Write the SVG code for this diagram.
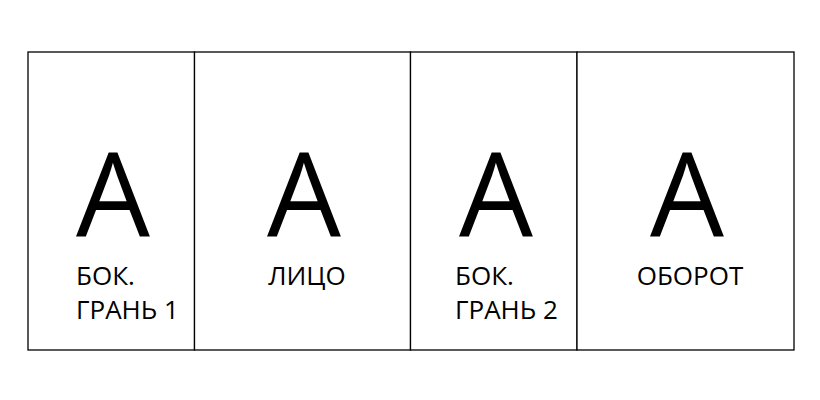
<svg xmlns="http://www.w3.org/2000/svg" width="820" height="400" viewBox="0 0 820 400">
<style>
.frame{fill:#fff;stroke:#000;stroke-width:1.3}
.big{font-family:"Open Sans","Liberation Sans",sans-serif;font-size:117px;fill:#000;text-anchor:middle}
.lbl{font-family:"Open Sans","Liberation Sans",sans-serif;font-size:26px;fill:#000}
</style>
<rect width="820" height="400" fill="#fff"/>
<g id="panel1">
<rect class="frame" x="28" y="52" width="166.5" height="298"/>
<text class="big" x="113" y="237">A</text>
<text class="lbl" x="76" y="285">БОК.</text>
<text class="lbl" x="76" y="319">ГРАНЬ 1</text>
</g>
<g id="panel2">
<rect class="frame" x="194.5" y="52" width="216" height="298"/>
<text class="big" x="304" y="237">A</text>
<text class="lbl" x="307" y="285" text-anchor="middle">ЛИЦО</text>
</g>
<g id="panel3">
<rect class="frame" x="410.5" y="52" width="166.5" height="298"/>
<text class="big" x="496" y="237">A</text>
<text class="lbl" x="455" y="285">БОК.</text>
<text class="lbl" x="455" y="319">ГРАНЬ 2</text>
</g>
<g id="panel4">
<rect class="frame" x="577" y="52" width="217" height="298"/>
<text class="big" x="687" y="237">A</text>
<text class="lbl" x="690" y="285" text-anchor="middle">ОБОРОТ</text>
</g>
</svg>
